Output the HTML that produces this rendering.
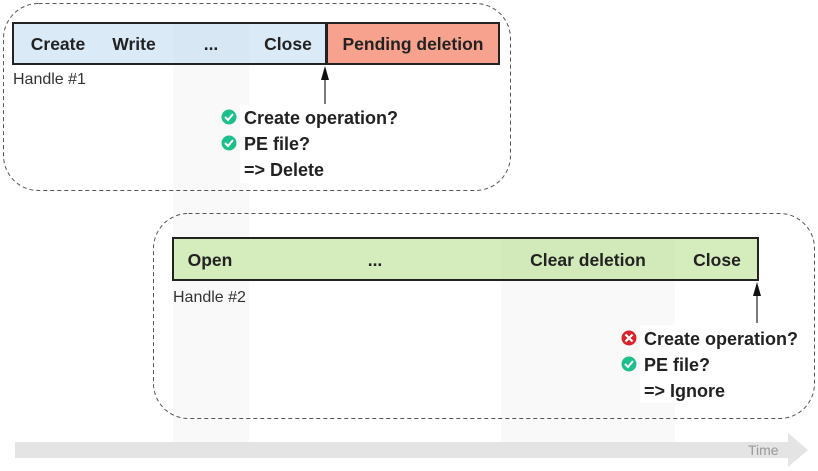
<!DOCTYPE html>
<html><head><meta charset="utf-8"><style>html,body{margin:0;padding:0;background:#fff}svg{display:block}</style></head>
<body>
<svg width="818" height="471" viewBox="0 0 818 471" xmlns="http://www.w3.org/2000/svg" font-family="Liberation Sans, DejaVu Sans, sans-serif">
<!-- time arrow -->
<rect x="15" y="442" width="775" height="16" fill="#e4e4e4"/>
<polygon points="788,433 808,450 788,467" fill="#e4e4e4"/>
<text x="748" y="455" font-size="14" fill="#999">Time</text>
<!-- bands -->
<rect x="173" y="24" width="76" height="418" fill="#000" opacity="0.025"/>
<rect x="501" y="239" width="174" height="203" fill="#000" opacity="0.025"/>
<!-- dashed boxes -->
<rect x="3.5" y="3.5" width="507" height="187" rx="35" fill="none" stroke="#555" stroke-dasharray="4,3"/>
<rect x="153.5" y="213.5" width="661" height="205" rx="35" fill="none" stroke="#555" stroke-dasharray="4,3"/>
<!-- bar1 -->
<rect x="13" y="23" width="313" height="41" fill="#dbeaf7" stroke="#222" stroke-width="2"/>
<rect x="174" y="24" width="75" height="39" fill="#000" opacity="0.012"/>
<rect x="327" y="23" width="172" height="41" fill="#f6a28f" stroke="#222" stroke-width="2"/>
<g font-size="17.5" font-weight="bold" fill="#222" text-anchor="middle">
<text x="58" y="50">Create</text><text x="134" y="50">Write</text><text x="211" y="50">...</text><text x="288" y="50">Close</text><text x="413" y="50">Pending deletion</text>
</g>
<text x="13" y="84" font-size="16" fill="#333">Handle #1</text>
<line x1="325" y1="104" x2="325" y2="78" stroke="#222" stroke-width="1.2"/>
<polygon points="325,66 321,80 329,80" fill="#111"/>
<!-- bar2 -->
<rect x="173" y="238" width="585" height="42" fill="#d5ecbc" stroke="#222" stroke-width="2"/>
<rect x="501" y="239" width="174" height="40" fill="#000" opacity="0.012"/>
<g font-size="17.5" font-weight="bold" fill="#222" text-anchor="middle">
<text x="210" y="266">Open</text><text x="375" y="266">...</text><text x="588" y="266">Clear deletion</text><text x="717" y="266">Close</text>
</g>
<text x="173" y="302" font-size="16" fill="#333">Handle #2</text>
<line x1="757" y1="323" x2="757" y2="294" stroke="#222" stroke-width="1.2"/>
<polygon points="757,282 753,296 761,296" fill="#111"/>
<!-- labels 1 -->
<rect x="240" y="105" width="170" height="78" fill="#fff"/>
<g font-size="18" font-weight="bold" fill="#222">
<text x="244" y="124">Create operation?</text><text x="244" y="150">PE file?</text><text x="244" y="176">=&gt; Delete</text>
</g>
<circle cx="229" cy="117" r="7.5" fill="#1dbf8a"/><polyline points="225,117 228,120 233,114" fill="none" stroke="#fff" stroke-width="2"/>
<circle cx="229" cy="143" r="7.5" fill="#1dbf8a"/><polyline points="225,143 228,146 233,140" fill="none" stroke="#fff" stroke-width="2"/>
<!-- labels 2 -->
<rect x="640" y="325" width="168" height="78" fill="#fff"/>
<g font-size="18" font-weight="bold" fill="#222">
<text x="644" y="345">Create operation?</text><text x="644" y="371">PE file?</text><text x="644" y="397">=&gt; Ignore</text>
</g>
<circle cx="629" cy="338" r="7.5" fill="#d9232a"/><path d="M625.5,334.5 L632.5,341.5 M632.5,334.5 L625.5,341.5" stroke="#fff" stroke-width="2.2"/>
<circle cx="629" cy="364" r="7.5" fill="#1dbf8a"/><polyline points="625,364 628,367 633,361" fill="none" stroke="#fff" stroke-width="2"/>
</svg>
</body></html>
